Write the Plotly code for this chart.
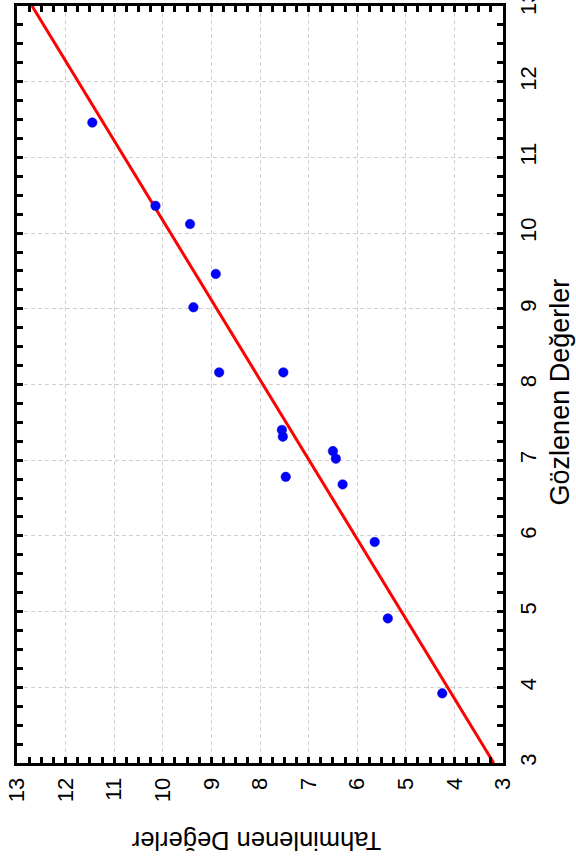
import plotly.graph_objects as go

# Observed (Gözlenen) and predicted (Tahminlenen) values
observed = [11.46, 10.36, 10.12, 9.46, 9.02, 8.16, 8.16, 7.40, 7.31, 7.12, 7.02, 6.78, 6.68, 5.92, 4.91, 3.92]
predicted = [11.45, 10.15, 9.44, 8.91, 9.37, 8.84, 7.52, 7.55, 7.53, 6.50, 6.44, 7.47, 6.30, 5.64, 5.37, 4.25]

# Fitted line end points (observed -> predicted)
line_observed = [3, 13]
line_predicted = [3.19, 12.69]

tick_vals = [3, 4, 5, 6, 7, 8, 9, 10, 11, 12, 13]
tick_text = [str(v) for v in tick_vals]

FONT = "Arial, Liberation Sans, sans-serif"

fig = go.Figure()
fig.add_trace(go.Scatter(
    x=line_predicted, y=line_observed, mode="lines",
    line=dict(color="#ff0000", width=3), showlegend=False, hoverinfo="skip"))
fig.add_trace(go.Scatter(
    x=predicted, y=observed, mode="markers",
    marker=dict(color="#0000ff", size=9.5, symbol="circle",
                line=dict(color="#0000cc", width=0.5)),
    showlegend=False))

axis_common = dict(
    tickvals=tick_vals, ticktext=tick_text,
    showline=True, linecolor="black", linewidth=3, mirror="allticks",
    ticks="inside", ticklen=6, tickwidth=2.5, tickcolor="black",
    minor=dict(dtick=0.25, ticks="inside", ticklen=6, tickwidth=2.5,
               tickcolor="black", showgrid=False),
    showgrid=True, gridcolor="#cfcfcf", griddash="4px,3px", gridwidth=1,
    zeroline=False, tickangle=-90, ticklabeloverflow="allow",
    automargin=False,
    tickfont=dict(family=FONT, size=22, color="black"),
)

fig.update_xaxes(range=[13, 3], ticklabelstandoff=3, **axis_common)
fig.update_yaxes(range=[3, 13], side="right", ticklabelstandoff=4, **axis_common)

fig.update_layout(
    width=576, height=863,
    margin=dict(l=17, r=73, t=6, b=100),
    plot_bgcolor="white", paper_bgcolor="white",
    font=dict(family=FONT, color="black"),
    annotations=[
        dict(text="Gözlenen Değerler", xref="paper", yref="paper",
             x=1.118, y=0.49, textangle=-90, showarrow=False,
             font=dict(family=FONT, size=27, color="black"),
             xanchor="center", yanchor="middle"),
        dict(text="Tahminlenen Değerler", xref="paper", yref="paper",
             x=0.492, y=-0.103, textangle=180, showarrow=False,
             font=dict(family=FONT, size=25.5, color="black"),
             xanchor="center", yanchor="middle"),
    ],
)

fig.write_html("out.html", config={"displayModeBar": False},
               post_script="document.body.style.margin='0px';")
